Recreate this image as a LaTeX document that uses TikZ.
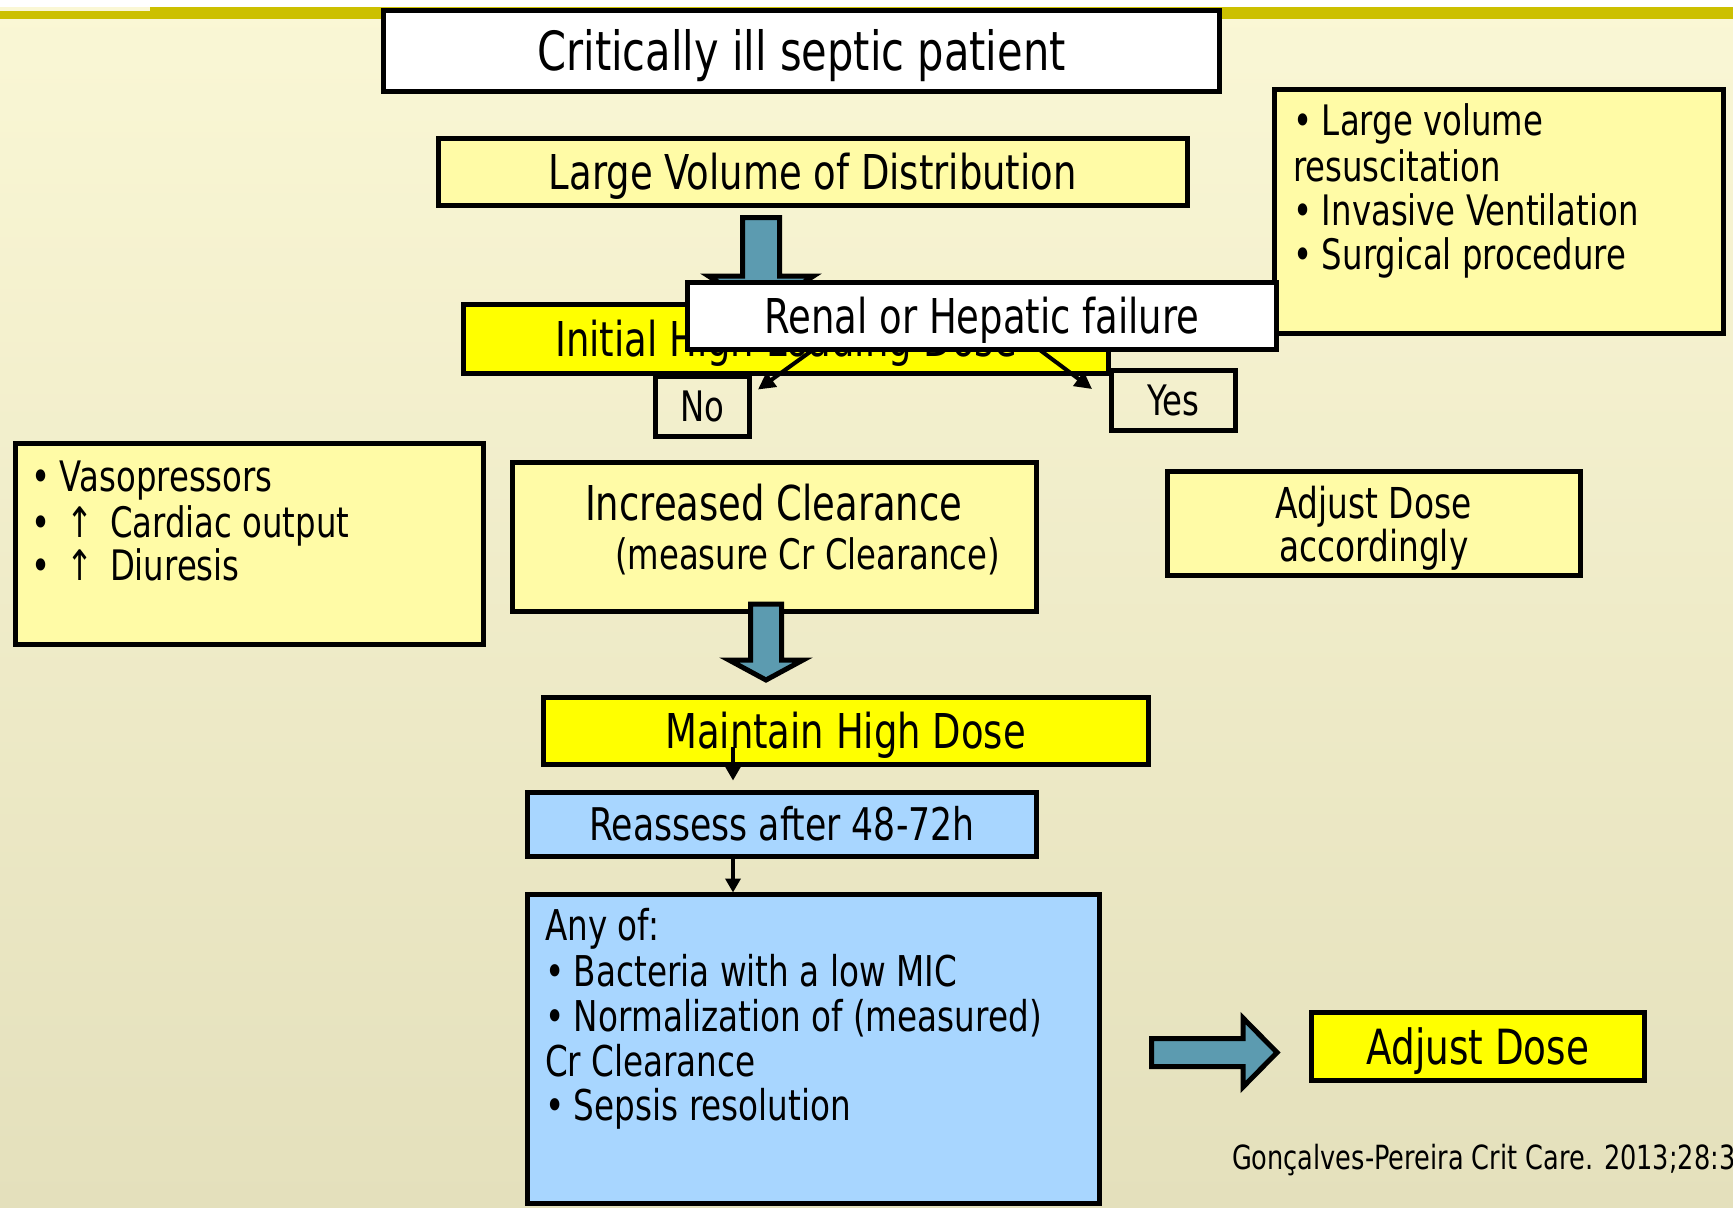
\documentclass[tikz,border=0pt]{standalone}
\usepackage{fontspec}
\setmainfont[FakeStretch=0.77]{DejaVu Sans}
\usetikzlibrary{arrows.meta,calc}
\definecolor{bgtop}{RGB}{250,247,213}
\definecolor{bgbot}{RGB}{228,224,188}
\definecolor{olivebar}{RGB}{204,192,0}
\definecolor{lyellow}{RGB}{255,251,166}
\definecolor{byellow}{RGB}{255,255,0}
\definecolor{lblue}{RGB}{168,214,255}
\definecolor{steel}{RGB}{92,155,176}
\tikzset{
  box/.style={draw=black, line width=5pt, inner sep=0pt, outer sep=0pt, rectangle},
  fs/.style 2 args={font=\fontsize{#1}{#2}\selectfont},
  ctr/.style={text height=#1, text depth=0pt},
  txt/.style={inner sep=0pt, outer sep=0pt},
  blk/.style={draw=black, line width=5pt, fill=steel, line join=miter, miter limit=10},
  thinarr/.style={draw=black, line width=3.5pt, -{Triangle[length=14pt,width=15pt]}},
  diag/.style={draw=black, line width=4pt, -{Triangle[length=17pt,width=17pt]}},
}
\newcommand{\bul}{\makebox[29pt][l]{•}}
\begin{document}
\begin{tikzpicture}[x=1pt,y=-1pt]
\useasboundingbox (0,0) rectangle (1733,1208);
\shade[top color=bgtop,bottom color=bgbot] (0,0) rectangle (1733,1208);
\fill[white] (0,0) rectangle (1733,7);
\fill[olivebar] (0,11) rectangle (150,19);
\fill[olivebar] (150,7) rectangle (1733,19);

% top
\node[box, fill=white, minimum width=836pt, minimum height=81pt, line width=5.5pt, fs={54}{54}, ctr=39.4pt] (title) at (801.5,51) {Critically ill septic patient};
\node[box, fill=lyellow, minimum width=749.5pt, minimum height=67pt, fs={48}{48}, ctr=35pt] (lvd) at (812.75,172) {Large Volume of Distribution};

% right risk box
\node[box, fill=lyellow, minimum width=449pt, minimum height=244pt] (risk) at (1499,211.5) {};
\node[txt, anchor=north west, align=left, fs={42}{44}] (risktxt) at (1293,103.5) {\strut\bul Large volume\\resuscitation\\\bul Invasive Ventilation\\\bul Surgical procedure};

% initial + renal
\node[box, fill=byellow, minimum width=645pt, minimum height=69pt, fs={48}{48}, ctr=35pt] (init) at (786,339) {Initial High Loading Dose};
\draw[blk] (742.5,217.5) -- (779.5,217.5) -- (779.5,276) -- (813.5,276) -- (761,310) -- (708.5,276) -- (742.5,276) -- cycle;
\node[box, fill=white, minimum width=589pt, minimum height=66.5pt, fs={48}{48}, ctr=35pt] (renal) at (982,315.75) {Renal or Hepatic failure};

\node[box, minimum width=93.5pt, minimum height=60pt, fs={42}{42}, ctr=30.7pt] (no) at (702.25,406.5) {No};
\node[box, minimum width=124.5pt, minimum height=60pt, fs={42}{42}, ctr=30.7pt] (yes) at (1173.25,400.5) {Yes};
\draw[diag] ($(renal.south west)!0.215!(renal.south east)$) -- ($(no.north east)+(9,13)$);
\draw[diag] ($(renal.south west)!0.596!(renal.south east)$) -- ($(yes.north west)+(-19,18.5)$);

% left box
\node[box, fill=lyellow, minimum width=468pt, minimum height=200.5pt] (vaso) at (249.5,543.75) {};
\node[txt, anchor=north west, align=left, fs={42}{43.5}] (vasotxt) at (31,460.5) {\strut\bul Vasopressors\\\bul\makebox[40pt][c]{↑}\hspace{10pt}Cardiac output\\\bul\makebox[40pt][c]{↑}\hspace{10pt}Diuresis};

% increased clearance
\node[box, fill=lyellow, minimum width=524.5pt, minimum height=148.5pt] (incr) at (774.25,536.75) {};
\node[txt, anchor=base west, fs={48}{48}] (incr1) at (585,520.5) {Increased Clearance};
\node[txt, anchor=base west, fs={42}{42}] (incr2) at (615,569.3) {(measure Cr Clearance)};
\draw[blk] (750.5,604) -- (781.5,604) -- (781.5,660) -- (803,660) -- (766,680) -- (729,660) -- (750.5,660) -- cycle;

% adjust accordingly
\node[box, fill=lyellow, minimum width=412.5pt, minimum height=104.5pt] (adjacc) at (1373.75,523.25) {};
\node[txt, align=center, fs={42.6}{43}] (adjacctxt) at ($(adjacc.center)+(0,5)$) {Adjust Dose\\accordingly};

% maintain / reassess / any of
\node[box, fill=byellow, minimum width=605pt, minimum height=67pt, fs={48}{48}, ctr=35pt] (maint) at (845.5,731) {Maintain High Dose};
\node[box, fill=lblue, minimum width=509pt, minimum height=64pt, fs={45}{45}, ctr=32.8pt] (reassess) at (782,824.5) {Reassess after 48-72h};
\node[box, fill=lblue, minimum width=572pt, minimum height=309pt] (anyof) at (813.5,1049) {};
\node[txt, anchor=north west, align=left, fs={42.4}{44.6}] (anyoftxt) at (545,908) {\strut Any of:\\\bul Bacteria with a low MIC\\\bul Normalization of (measured)\\Cr Clearance\\\bul Sepsis resolution};

\coordinate (m1) at (733,747);
\draw[thinarr] (m1) -- ($(m1 |- reassess.north)+(0,-12)$);
\draw[thinarr] (m1 |- reassess.south) -- ($(m1 |- anyof.north)+(0,-2)$);

% adjust dose
\draw[blk] (1151.5,1038.5) -- (1243,1038.5) -- (1243,1018) -- (1277,1052.5) -- (1243,1087) -- (1243,1066.5) -- (1151.5,1066.5) -- cycle;
\node[box, fill=byellow, minimum width=333.5pt, minimum height=68pt, fs={48.5}{48.5}, ctr=35.4pt] (adjust) at (1477.75,1046.5) {Adjust Dose};

\node[txt, anchor=base west, fs={33.3}{33}] (cite) at (1232,1169) {Gonçalves-Pereira Crit Care. 2013;28:3};
\end{tikzpicture}
\end{document}
